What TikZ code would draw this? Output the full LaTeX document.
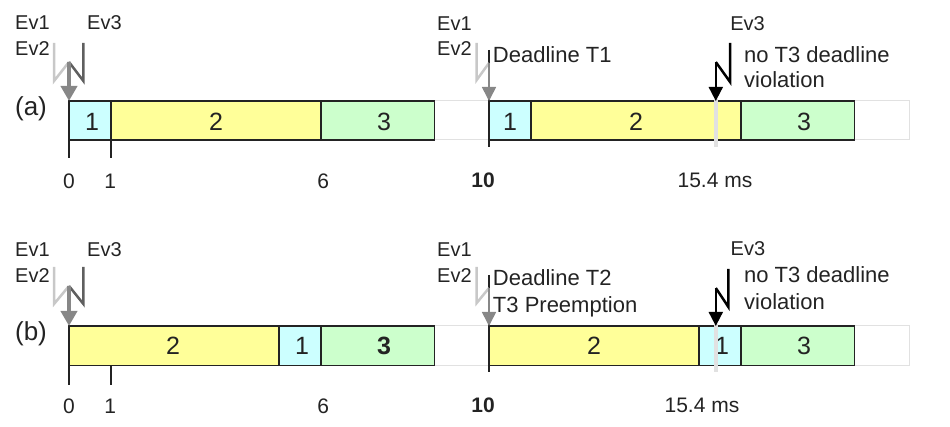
\documentclass[tikz,border=0pt]{standalone}
\usepackage{fontspec}
\setmainfont{Liberation Sans}
\usetikzlibrary{arrows.meta}

\definecolor{tcyan}{RGB}{204,255,255}
\definecolor{tjaune}{RGB}{255,255,153}
\definecolor{tvert}{RGB}{204,255,204}
\definecolor{gclair}{RGB}{200,200,200}
\definecolor{gmoyen}{RGB}{135,135,135}
\definecolor{gfonce}{RGB}{95,95,95}
\definecolor{gfond}{RGB}{225,225,225}
\definecolor{encre}{RGB}{35,35,35}

\begin{document}
\begin{tikzpicture}[x=42pt, y=-1pt,
		boite/.style={draw=encre, line width=1.3pt},
		fond/.style={draw=gfond, line width=1pt},
		ev/.style={anchor=base west, inner sep=0pt, text=encre, font=\fontsize{20}{23}\selectfont},
		txt/.style={anchor=base west, inner sep=0pt, text=encre, font=\fontsize{22}{26}\selectfont},
		num/.style={inner sep=0pt, text=encre, font=\fontsize{21}{24}\selectfont},
		lbl/.style={inner sep=0pt, text=encre, font=\fontsize{25}{28}\selectfont},
		rang/.style={inner sep=0pt, text=encre, font=\fontsize{26}{30}\selectfont},
		eclair/.style={line width=2.5pt},
		fleche/.style={-{Triangle[length=14pt,width=14pt]}, line width=1.8pt}]
				\useasboundingbox (-1.642857,0) rectangle (20.97619,427);
				% points des fleches
				\coordinate (ha0) at (0,62);
				\coordinate (ba0) at (0,101);
				\coordinate (ha10) at (10,63);
				\coordinate (ba10) at (10,101);
				\coordinate (ha15) at (15.4,62);
				\coordinate (ba15) at (15.4,101);
				\coordinate (hb0) at (0,286);
				\coordinate (bb0) at (0,326);
				\coordinate (hb10) at (10,288);
				\coordinate (bb10) at (10,326);
				\coordinate (hb15) at (15.4,288);
				\coordinate (bb15) at (15.4,326);
				% ligne (a)
				\draw[fond] (0,101) rectangle (20,140);
				\draw[boite, fill=tcyan] (0,101) rectangle (1,140);
				\draw[boite, fill=tjaune] (1,101) rectangle (6,140);
				\draw[boite, fill=tvert] (6,101) rectangle (8.7,140);
				\draw[boite, fill=tcyan] (10,101) rectangle (11,140);
				\draw[boite, fill=tjaune] (11,101) rectangle (16,140);
				\draw[boite, fill=tvert] (16,101) rectangle (18.7,140);
				\node[lbl] (a1) at (0.55,122) {1};
				\node[lbl] (a2) at (3.5,122) {2};
				\node[lbl] (a3) at (7.5,122) {3};
				\node[lbl] (a1b) at (10.5,122) {1};
				\node[lbl] (a2b) at (13.5,122) {2};
				\node[lbl] (a3b) at (17.5,122) {3};
				% graduations (a)
				\draw[encre, line width=1.3pt] (0,140)--(0,158);
				\draw[encre, line width=1.3pt] (1,140)--(1,158);
				\draw[encre, line width=1.2pt] (10,50)--(10,147);
				\draw[gfond, line width=3.5pt] (15.4,99)--(15.4,147);
				\node[num] (ta0) at (0,181) {0};
				\node[num] (ta1) at (0.98,181) {1};
				\node[num] (ta6) at (6.05,181) {6};
				\node[num, font=\fontsize{21}{24}\selectfont\bfseries] (ta10) at (9.86,180) {10};
				\node[num] (ta15) at (15.38,180) {15.4 ms};
				% evenements (a)
				\draw[eclair, gclair] (-0.357,43)--(-0.357,81)--(ha0);
				\draw[eclair, gfonce] (0.343,43)--(0.343,81)--(ha0);
				\draw[fleche, gmoyen, line width=4pt, -{Triangle[length=15pt,width=16pt]}] (ha0)--(ba0);
				\draw[eclair, gclair] (9.707,43)--(9.707,80)--(ha10);
				\draw[fleche, gmoyen, line width=1.6pt] (ha10)--(ba10);
				\draw[eclair, black] (15.74,43)--(15.74,82)--(ha15);
				\draw[fleche, black] (ha15)--(ba15);
				\node[rang] (ra) at (-0.905,109) {(a)};
				\node[ev] (ev1a) at (-1.286,30) {Ev1};
				\node[ev] (ev2a) at (-1.286,56) {Ev2};
				\node[ev] (ev3a) at (0.4286,30) {Ev3};
				\node[ev] (ev1c) at (8.762,31) {Ev1};
				\node[ev] (ev2c) at (8.762,56) {Ev2};
				\node[ev] (ev3c) at (15.74,31) {Ev3};
				\node[txt] (dla) at (10.09,63) {Deadline T1};
				\node[txt] (nva) at (16.07,63) {no T3 deadline};
				\node[txt] (via) at (16.07,88) {violation};
				% ligne (b)
				\draw[fond] (0,326) rectangle (20,365.5);
				\draw[boite, fill=tjaune] (0,326) rectangle (5,365.5);
				\draw[boite, fill=tcyan] (5,326) rectangle (6,365.5);
				\draw[boite, fill=tvert] (6,326) rectangle (8.7,365.5);
				\draw[boite, fill=tjaune] (10,326) rectangle (15,365.5);
				\draw[boite, fill=tcyan] (15,326) rectangle (16,365.5);
				\draw[boite, fill=tvert] (16,326) rectangle (18.7,365.5);
				\node[lbl] (b2) at (2.48,346) {2};
				\node[lbl] (b1) at (5.55,346) {1};
				\node[lbl, font=\fontsize{25}{28}\selectfont\bfseries] (b3) at (7.5,346) {3};
				\node[lbl] (b2b) at (12.5,346) {2};
				\node[lbl] (b1b) at (15.55,346) {1};
				\node[lbl] (b3b) at (17.5,346) {3};
				% graduations (b)
				\draw[encre, line width=1.3pt] (0,365.5)--(0,385);
				\draw[encre, line width=1.3pt] (1,365.5)--(1,385);
				\draw[encre, line width=1.2pt] (10,275)--(10,372);
				\draw[gfond, line width=3.5pt] (15.4,324)--(15.4,372);
				\node[num] (tb0) at (0,406) {0};
				\node[num] (tb1) at (0.98,406) {1};
				\node[num] (tb6) at (6.05,406) {6};
				\node[num, font=\fontsize{21}{24}\selectfont\bfseries] (tb10) at (9.86,405) {10};
				\node[num] (tb15) at (15.07,405) {15.4 ms};
				% evenements (b)
				\draw[eclair, gclair] (-0.357,267)--(-0.357,304)--(hb0);
				\draw[eclair, gfonce] (0.343,267)--(0.343,304)--(hb0);
				\draw[fleche, gmoyen, line width=4pt, -{Triangle[length=15pt,width=16pt]}] (hb0)--(bb0);
				\draw[eclair, gclair] (9.707,267)--(9.707,303)--(hb10);
				\draw[fleche, gmoyen, line width=1.6pt] (hb10)--(bb10);
				\draw[eclair, black] (15.70,269)--(15.70,307)--(hb15);
				\draw[fleche, black] (hb15)--(bb15);
				\node[rang] (rb) at (-0.905,334) {(b)};
				\node[ev] (ev1b) at (-1.286,257) {Ev1};
				\node[ev] (ev2b) at (-1.286,283) {Ev2};
				\node[ev] (ev3b) at (0.4286,257) {Ev3};
				\node[ev] (ev1d) at (8.762,257) {Ev1};
				\node[ev] (ev2d) at (8.762,283) {Ev2};
				\node[ev] (ev3d) at (15.75,256) {Ev3};
				\node[txt] (dlb) at (10.09,286) {Deadline T2};
				\node[txt] (pre) at (10.09,313) {T3 Preemption};
				\node[txt] (nvb) at (16.07,283) {no T3 deadline};
				\node[txt] (vib) at (16.07,310) {violation};
		\end{tikzpicture}
\end{document}
